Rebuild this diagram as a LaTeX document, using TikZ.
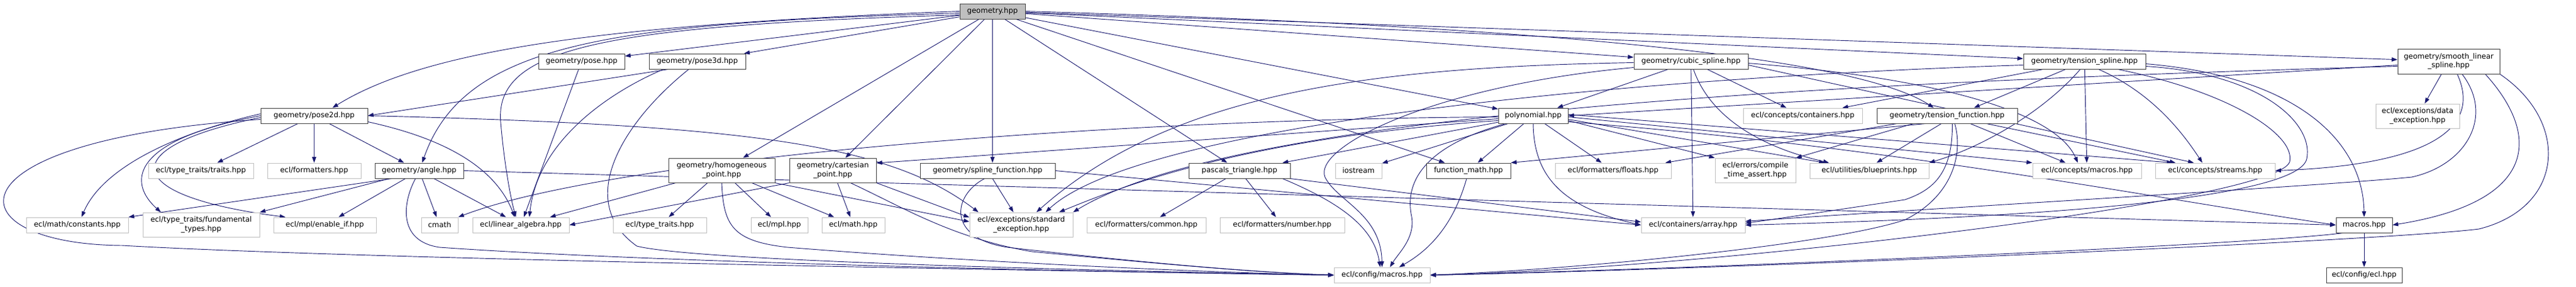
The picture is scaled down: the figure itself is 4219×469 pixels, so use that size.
\documentclass[tikz,border=0pt]{standalone}
\usepackage{fontspec}
\setmainfont{DejaVu Sans}
\usetikzlibrary{arrows.meta,calc}
\definecolor{edgec}{HTML}{191970}
\definecolor{gborder}{HTML}{BFBFBF}
\definecolor{dborder}{HTML}{404040}
\definecolor{gfill}{HTML}{BFBFBF}
\pgfdeclarelayer{paper}
\pgfdeclarelayer{bg}
\pgfsetlayers{paper,bg,main}
\tikzset{
  nd/.style={draw=dborder, fill=white, line width=0.75pt, inner sep=0pt,
    font=\fontsize{9}{11}\selectfont, align=center, minimum height=25*0.75pt},
  ext/.style={nd, draw=gborder},
  bw/.style={minimum width=#1*0.75pt},
  bh/.style={minimum height=#1*0.75pt},
  edg/.style={draw=edgec, line width=0.7pt, -{Triangle[length=7pt,width=5pt]}},
}
\begin{document}
\begin{tikzpicture}[x=0.75pt,y=-0.75pt]
\begin{pgfonlayer}{paper}
\fill[white] (0,0) rectangle (4219,469);
\end{pgfonlayer}
\useasboundingbox (0,0) rectangle (4219,469);
% row 0
\node[nd,fill=gfill,bw=107] (geo) at (1625.5,18.5) {geometry.hpp};
% row 1
\node[nd,bw=141] (pose) at (952.5,100.5) {geometry/pose.hpp};
\node[nd,bw=158] (pose3d) at (1142,100.5) {geometry/pose3d.hpp};
\node[nd,bw=187] (cubic) at (2769.5,100.5) {geometry/cubic\_spline.hpp};
\node[nd,bw=200] (tspline) at (3414,100.5) {geometry/tension\_spline.hpp};
\node[nd,bw=167,bh=41] (smooth) at (4010.5,100.5) {geometry/smooth\_linear\\\_spline.hpp};
% row 2
\node[nd,bw=175] (pose2d) at (514.5,189.5) {geometry/pose2d.hpp};
\node[nd,bw=114] (poly) at (2511,189.5) {polynomial.hpp};
\node[ext,bw=195] (containers) at (2952.5,189.5) {ecl/concepts/containers.hpp};
\node[nd,bw=230] (tfunc) at (3189,189.5) {geometry/tension\_function.hpp};
\node[ext,bw=137,bh=40] (dataexc) at (3959.5,190) {ecl/exceptions/data\\\_exception.hpp};
% row 3
\node[ext,bw=172] (traits) at (329,279.5) {ecl/type\_traits/traits.hpp};
\node[ext,bw=153] (formatters) at (514.5,279.5) {ecl/formatters.hpp};
\node[nd,bw=145] (angle) at (686.5,279.5) {geometry/angle.hpp};
\node[nd,bw=174,bh=40] (homog) at (1182,279) {geometry/homogeneous\\\_point.hpp};
\node[nd,bw=142,bh=40] (cart) at (1364,279) {geometry/cartesian\\\_point.hpp};
\node[nd,bw=221] (splinef) at (1617.5,279.5) {geometry/spline\_function.hpp};
\node[nd,bw=166] (pascal) at (2030,279.5) {pascals\_triangle.hpp};
\node[ext,bw=76] (iostream) at (2225,279.5) {iostream};
\node[nd,bw=138] (fmath) at (2405,279.5) {function\_math.hpp};
\node[ext,bw=190] (floats) at (2642,279.5) {ecl/formatters/floats.hpp};
\node[ext,bw=132,bh=40] (cta) at (2875,279) {ecl/errors/compile\\\_time\_assert.hpp};
\node[ext,bw=195] (blueprints) at (3061.5,279.5) {ecl/utilities/blueprints.hpp};
\node[ext,bw=178] (cmacros) at (3418,279.5) {ecl/concepts/macros.hpp};
\node[ext,bw=196] (streams) at (3628,279.5) {ecl/concepts/streams.hpp};
% row 4
\node[ext,bw=167] (constants) at (126.5,368.5) {ecl/math/constants.hpp};
\node[ext,bw=191,bh=40] (fundtypes) at (329.5,368) {ecl/type\_traits/fundamental\\\_types.hpp};
\node[ext,bw=168] (enableif) at (532,368.5) {ecl/mpl/enable\_if.hpp};
\node[ext,bw=60] (cmath) at (720,368.5) {cmath};
\node[ext,bw=158] (linalg) at (853,368.5) {ecl/linear\_algebra.hpp};
\node[ext,bw=153] (typetraits) at (1080.5,368.5) {ecl/type\_traits.hpp};
\node[ext,bw=93] (mpl) at (1276.5,368.5) {ecl/mpl.hpp};
\node[ext,bw=103] (math) at (1397.5,368.5) {ecl/math.hpp};
\node[ext,bw=169,bh=40] (stdexc) at (1672.5,368) {ecl/exceptions/standard\\\_exception.hpp};
\node[ext,bw=195] (common) at (1877.5,368.5) {ecl/formatters/common.hpp};
\node[ext,bw=204] (number) at (2100,368.5) {ecl/formatters/number.hpp};
\node[ext,bw=170] (array) at (2773,368.5) {ecl/containers/array.hpp};
\node[nd,bw=92] (gmacros) at (3872,368.5) {macros.hpp};
% row 5
\node[ext,bw=157] (cfgmacros) at (2263.5,450.5) {ecl/config/macros.hpp};
\node[nd,bw=124] (ecl) at (3872,450.5) {ecl/config/ecl.hpp};

\begin{pgfonlayer}{bg}
% geometry.hpp
\draw[edg] (geo.west) .. controls (1000,40) and (700,80) .. ($(pose2d.north)+(30,0)$);
\draw[edg] ($(geo.west)+(0,3)$) .. controls (1000,38) and (760,70) .. ($(angle.north)+(5,0)$);
\draw[edg] ($(geo.west)+(0,6)$) .. controls (980,42) and (810,80) .. (820,200) .. controls (825,260) and (835,320) .. ($(linalg.north)+(-8,0)$);
\draw[edg] (geo) -- (pose);
\draw[edg] (geo) -- (pose3d);
\draw[edg] (geo) -- (homog);
\draw[edg] (geo) -- (cart);
\draw[edg] (geo.south) -- (geo.south |- splinef.north);
\draw[edg] (geo) -- (pascal);
\draw[edg] (geo) -- (fmath);
\draw[edg] (geo) -- (poly);
\draw[edg] (geo) -- (cubic);
\draw[edg] (geo) -- (tspline);
\draw[edg] (geo) -- (smooth);
\draw[edg] (geo.east) .. controls (2600,45) and (3050,100) .. ($(tfunc.north)+(-22,0)$);
% pose
\draw[edg] (pose) -- (linalg);
% pose3d
\draw[edg] ($(pose3d.south west)+(32,0)$) -- (pose2d.east);
\draw[edg] ($(pose3d.south west)+(24,0)$) .. controls (1000,150) and (880,230) .. ($(linalg.north)+(14,0)$);
\draw[edg] ($(pose3d.south)+(-14,0)$) .. controls (1020,200) and (940,330) .. (1043,403) .. controls (1150,430) and (1900,445) .. (cfgmacros.west);
% pose2d
\draw[edg] (pose2d) -- (traits);
\draw[edg] (pose2d) -- (formatters);
\draw[edg] (pose2d) -- (angle);
\draw[edg] ($(pose2d.south east)+(0,-3)$) .. controls (720,225) and (810,270) .. ($(linalg.north)+(-10,0)$);
\draw[edg] (pose2d.east) .. controls (1250,205) and (1460,240) .. ($(stdexc.north west)+(15,0)$);
\draw[edg] ($(pose2d.west)+(0,-3)$) .. controls (300,215) and (170,270) .. ($(constants.north)+(7,0)$);
\draw[edg] (pose2d.west) .. controls (210,230) and (210,300) .. ($(fundtypes.north)+(-66,0)$);
\draw[edg] ($(pose2d.west)+(0,3)$) .. controls (190,240) and (190,320) .. ($(enableif.north west)+(20,0)$);
\draw[edg] ($(pose2d.west)+(0,6)$) .. controls (-100,230) and (-80,400) .. (200,402) .. controls (600,425) and (1800,445) .. (cfgmacros.west);
% angle
\draw[edg] ($(angle.south west)+(28,0)$) -- (constants.north east);
\draw[edg] ($(angle.south west)+(24,0)$) -- (fundtypes.north east);
\draw[edg] (angle) -- (enableif);
\draw[edg] (angle) -- (cmath);
\draw[edg] (angle) -- (linalg);
\draw[edg] ($(angle.south)+(-6,0)$) .. controls (660,330) and (650,395) .. (720,405) .. controls (1100,432) and (1900,447) .. (cfgmacros.west);
\draw[edg] (angle.east) -- (gmacros.west);
% homogeneous point
\draw[edg] (homog) -- (linalg);
\draw[edg] (homog) -- (typetraits);
\draw[edg] (homog) -- (mpl);
\draw[edg] (homog) -- (math);
\draw[edg] (homog.south) .. controls (1185,370) and (1200,395) .. (1290,405) .. controls (1600,430) and (2000,447) .. (cfgmacros.west);
\draw[edg] (homog.south east) -- ($(stdexc.west)+(0,-5)$);
% cartesian point
\draw[edg] (cart.south west) -- (linalg.east);
\draw[edg] (cart) -- (math);
\draw[edg] ($(cart.south)+(29,0)$) .. controls (1480,340) and (1560,390) .. (1690,412) .. controls (1900,432) and (2050,446) .. (cfgmacros.west);
\draw[edg] (cart.south east) -- ($(stdexc.west)+(0,-12)$);
% spline function
\draw[edg] ($(splinef.south)+(-5,0)$) .. controls (1560,320) and (1550,390) .. (1650,405) .. controls (1850,428) and (2050,446) .. (cfgmacros.west);
\draw[edg] (splinef) -- (stdexc);
\draw[edg] (splinef.east) -- (array.west);
% pascals triangle
\draw[edg] (pascal) -- (common);
\draw[edg] (pascal) -- (number);
\draw[edg] ($(pascal.south east)+(-13,0)$) .. controls (2190,330) and (2250,370) .. ($(cfgmacros.north)+(-3,0)$);
\draw[edg] (pascal.south east) -- ($(array.west)+(0,-5)$);
% function math
\draw[edg] ($(fmath.south)+(-3,0)$) .. controls (2380,370) and (2340,410) .. ($(cfgmacros.north)+(28,0)$);
% polynomial
\draw[edg] ($(poly.west)+(0,2)$) .. controls (1800,195) and (1000,260) .. (cmath.north east);
\draw[edg] ($(poly.west)+(0,5)$) -- ($(cart.east)+(0,-12)$);
\draw[edg] ($(poly.west)+(0,8)$) .. controls (2050,225) and (1850,300) .. ($(stdexc.north)+(62,0)$);
\draw[edg] (poly) -- (iostream);
\draw[edg] (poly) -- ($(pascal.north east)+(-13,0)$);
\draw[edg] (poly) -- (fmath);
\draw[edg] ($(poly.south west)+(12,0)$) .. controls (2330,240) and (2300,300) .. (2312,355) .. controls (2318,390) and (2290,415) .. ($(cfgmacros.north)+(13,0)$);
\draw[edg] (poly.south) .. controls (2512,290) and (2560,340) .. (array.west);
\draw[edg] (poly) -- (floats);
\draw[edg] ($(poly.east)+(0,8)$) -- (cta.north west);
\draw[edg] ($(poly.east)+(0,6)$) -- ($(blueprints.north west)+(25,0)$);
\draw[edg] ($(poly.east)+(0,2)$) -- (cmacros.north west);
\draw[edg] ($(poly.east)+(0,-2)$) -- ($(streams.north)+(-70,0)$);
\draw[edg] ($(poly.east)+(0,10)$) .. controls (3100,240) and (3500,320) .. (gmacros.west);
% cubic spline
\draw[edg] ($(cubic.west)+(0,2)$) .. controls (2250,110) and (1920,150) .. ($(stdexc.north)+(25,0)$);
\draw[edg] ($(cubic.west)+(0,10)$) .. controls (2350,140) and (2150,240) .. (2170,290) .. controls (2190,330) and (2262,350) .. (cfgmacros.north);
\draw[edg] (cubic) -- ($(poly.north east)+(-18,0)$);
\draw[edg] (cubic) -- (array);
\draw[edg] ($(cubic.south)+(4,0)$) .. controls (2800,190) and (2880,240) .. ($(blueprints.north west)+(32,0)$);
\draw[edg] (cubic) -- (containers);
\draw[edg] ($(cubic.east)+(0,3)$) .. controls (3200,130) and (3370,190) .. ($(cmacros.north)+(-15,0)$);
\draw[edg] ($(cubic.east)+(0,6)$) -- ($(streams.north)+(-35,0)$);
% tension spline
\draw[edg] ($(tspline.west)+(0,6)$) .. controls (2600,130) and (1860,210) .. ($(stdexc.north)+(40,0)$);
\draw[edg] (tspline) -- ($(containers.north east)+(-33,0)$);
\draw[edg] (tspline) -- ($(tfunc.north)+(44,0)$);
\draw[edg] ($(tspline.south)+(-7,0)$) .. controls (3350,180) and (3250,240) .. (blueprints.north east);
\draw[edg] (tspline) -- (cmacros);
\draw[edg] ($(tspline.south)+(23,0)$) .. controls (3520,150) and (3570,210) .. ($(streams.north)+(-21,0)$);
\draw[edg] ($(tspline.east)+(0,4)$) .. controls (3760,125) and (3870,230) .. (gmacros.north);
\draw[edg] ($(tspline.east)+(0,8)$) .. controls (3700,120) and (3790,200) .. (3778,260) .. controls (3765,320) and (3400,355) .. (array.east);
\draw[edg] ($(tspline.south east)+(-46,0)$) .. controls (3650,150) and (3760,220) .. (3750,265) .. controls (3730,330) and (2800,440) .. (cfgmacros.east);
% smooth linear spline
\draw[edg] (smooth) -- (dataexc);
\draw[edg] ($(smooth.south)+(14,0)$) .. controls (4065,210) and (3980,270) .. (streams.east);
\draw[edg] ($(smooth.south)+(22,0)$) .. controls (4085,190) and (4040,270) .. (3950,290) .. controls (3800,305) and (3100,345) .. ($(array.east)+(0,-6)$);
\draw[edg] ($(smooth.south east)+(-24,0)$) .. controls (4160,220) and (4160,330) .. (gmacros.east);
\draw[edg] (smooth.south east) .. controls (4210,200) and (4200,340) .. (4060,375) .. controls (3900,395) and (2800,442) .. (cfgmacros.east);
\draw[edg] ($(smooth.west)+(0,6)$) -- (poly.east);
\draw[edg] ($(smooth.west)+(0,8)$) .. controls (2800,140) and (2000,200) .. (stdexc.north east);
% tension function
\draw[edg] ($(tfunc.south west)+(80,0)$) -- (fmath.north east);
\draw[edg] ($(tfunc.south west)+(33,0)$) -- ($(floats.north east)+(-10,0)$);
\draw[edg] ($(tfunc.south west)+(60,0)$) -- (cta.north east);
\draw[edg] ($(tfunc.south west)+(106,0)$) -- ($(blueprints.north)+(12,0)$);
\draw[edg] ($(tfunc.south west)+(124,0)$) .. controls (3198,280) and (3170,310) .. (3120,327) .. controls (3000,345) and (2900,360) .. ($(array.east)+(0,-3)$);
\draw[edg] ($(tfunc.south west)+(128,0)$) .. controls (3215,250) and (3200,320) .. (3120,360) .. controls (3000,400) and (2600,440) .. (cfgmacros.east);
\draw[edg] ($(tfunc.south)+(38,0)$) -- ($(cmacros.north)+(-35,0)$);
\draw[edg] ($(tfunc.south east)+(-51,0)$) -- ($(streams.north)+(-65,0)$);
% macros.hpp
\draw[edg] (gmacros) -- (ecl);
\draw[edg] ($(gmacros.south west)+(12,0)$) .. controls (3700,400) and (2800,440) .. (cfgmacros.east);
\end{pgfonlayer}
\end{tikzpicture}
\end{document}
